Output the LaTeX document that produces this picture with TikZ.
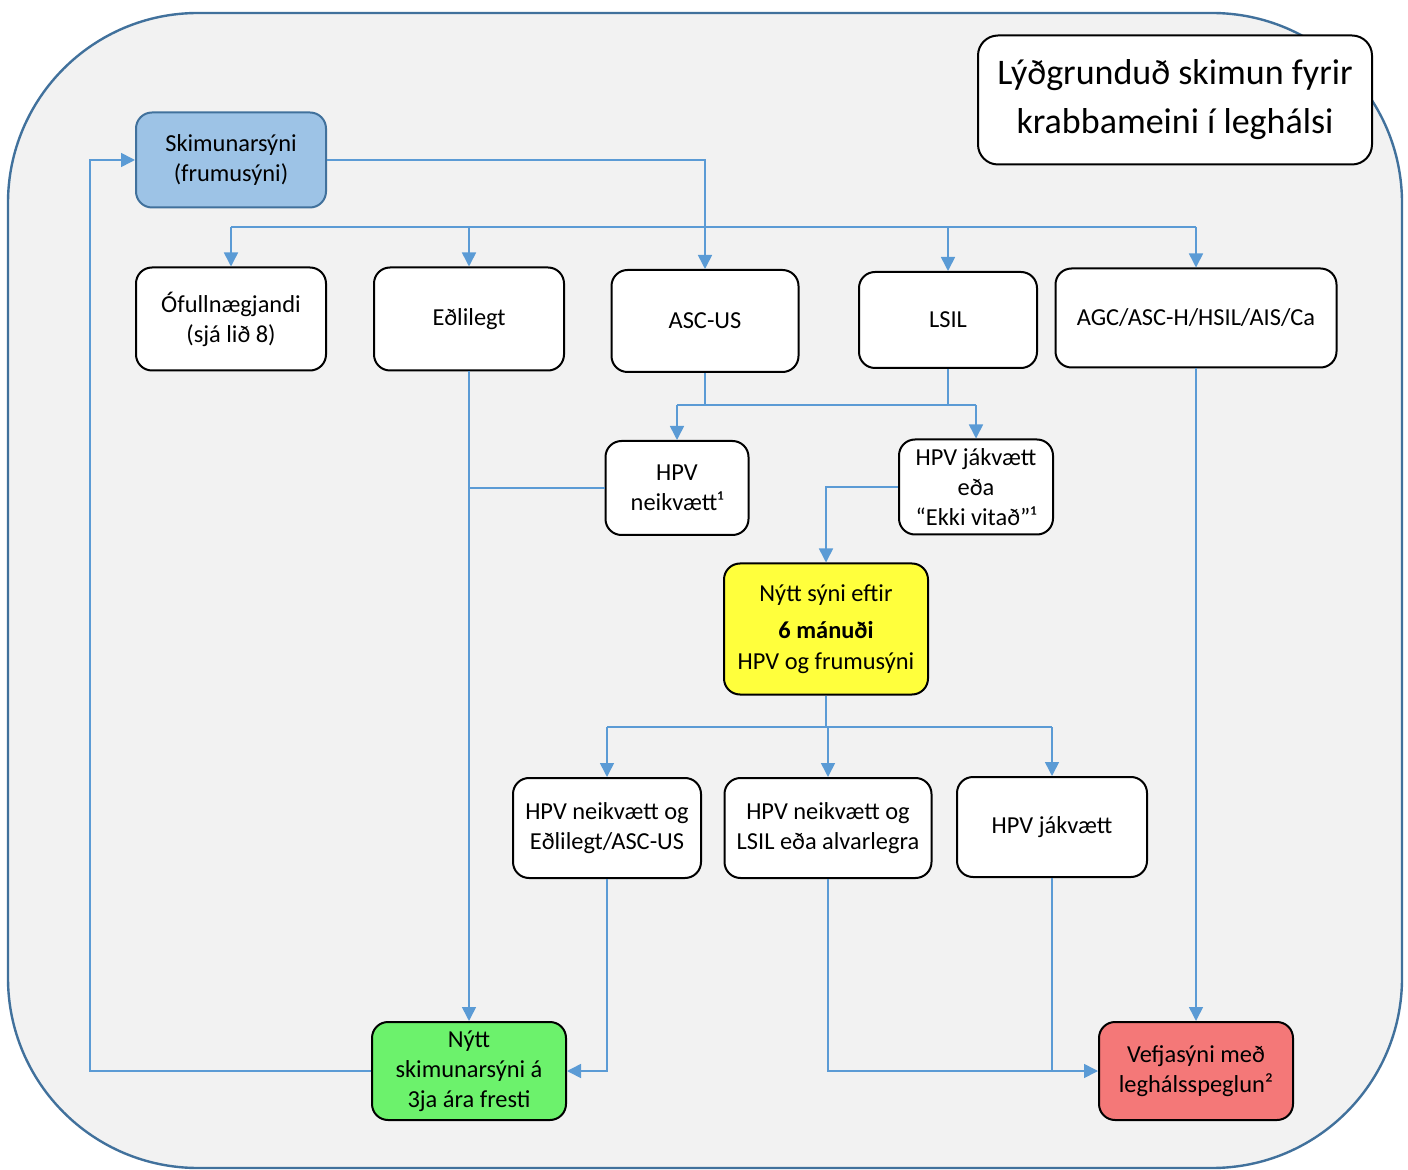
\documentclass[tikz,border=0pt]{standalone}
\usepackage{fontspec}
\setmainfont{Carlito}
\usetikzlibrary{arrows.meta}

\definecolor{framecol}{HTML}{41719C}
\definecolor{bgcol}{HTML}{F2F2F2}
\definecolor{linkcol}{HTML}{5B9BD5}
\definecolor{startcol}{HTML}{9DC3E6}
\definecolor{waitcol}{HTML}{FFFF3C}
\definecolor{okcol}{HTML}{6CF26C}
\definecolor{biopsycol}{HTML}{F47878}

\tikzset{
  box/.style={draw=black, line width=1pt, fill=white, rounded corners=8pt,
    align=center, inner sep=2pt, font=\fontsize{12.2}{15}\selectfont},
  link/.style={draw=linkcol, line width=0.8pt},
  arr/.style={link, -{Triangle[width=7pt,length=7pt]}},
}

\begin{document}
\begin{tikzpicture}[x=0.5pt,y=-0.5pt]
    \useasboundingbox (0,0) rectangle (1408,1170);
    \fill[white] (0,0) rectangle (1408,1170);
    \draw[framecol, line width=1.2pt, fill=bgcol, rounded corners=95pt] (8,13) rectangle (1402,1168);

    % title
    \node[box, minimum width=197pt, minimum height=64.5pt, rounded corners=10pt,
      font=\fontsize{18}{24.5}\selectfont] (title) at (1175,100) {Lýðgrunduð skimun fyrir\\krabbameini í leghálsi};

    % start
    \node[box, fill=startcol, draw=framecol, minimum width=95pt, minimum height=47.5pt] (start) at (231,160) {Skimunarsýni\\(frumusýni)};

    % first results
    \node[box, minimum width=95pt, minimum height=51.5pt] (ofull) at (231,319) {Ófullnægjandi\\(sjá lið 8)};
    \node[box, minimum width=95pt, minimum height=51.5pt] (edl) at (469,319) {Eðlilegt};
    \node[box, minimum width=93.5pt, minimum height=51pt] (ascus) at (705,321) {ASC-US};
    \node[box, minimum width=89pt, minimum height=48pt] (lsil) at (948,320) {LSIL};
    \node[box, minimum width=140.5pt, minimum height=49.5pt] (agc) at (1196,318) {AGC/ASC-H/HSIL/AIS/Ca};

    % hpv
    \node[box, minimum width=71.5pt, minimum height=47pt] (hpvneg) at (677,488) {HPV\\neikvætt¹};
    \node[box, minimum width=77pt, minimum height=47.5pt] (hpvpos) at (976,487) {HPV jákvætt\\eða\\“Ekki vitað”¹};

    % follow up
    \node[box, fill=waitcol, minimum width=102pt, minimum height=65.5pt,
      font=\fontsize{12.2}{15.5}\selectfont] (six) at (826,629) {Nýtt sýni eftir\\[3pt]\textbf{6 mánuði}\\HPV og frumusýni};

    \node[box, minimum width=94pt, minimum height=50pt] (negnorm) at (607,828) {HPV neikvætt og\\Eðlilegt/ASC-US};
    \node[box, minimum width=103.5pt, minimum height=50pt] (neglsil) at (828,828) {HPV neikvætt og\\LSIL eða alvarlegra};
    \node[box, minimum width=95pt, minimum height=50pt] (pos) at (1052,827) {HPV jákvætt};

    % outcomes
    \node[box, fill=okcol, minimum width=97pt, minimum height=49pt] (nyttskim) at (469,1071) {Nýtt\\skimunarsýni á\\3ja ára fresti};
    \node[box, fill=biopsycol, minimum width=97pt, minimum height=49pt] (biopsy) at (1196,1071) {Vefjasýni með\\leghálsspeglun²};

    \coordinate (bus) at (0,227);
    \coordinate (hpvbus) at (0,405);
    \coordinate (resbus) at (0,727);
    \coordinate (loop) at (90,600);

    % connectors
    \draw[arr] (start.east) -| (ascus.north);
    \draw[link] (ofull.north |- bus) -- (agc.north |- bus);
    \foreach \n in {ofull,edl,lsil,agc}
      \draw[arr] (\n.north |- bus) -- (\n.north);

    \draw[link] (ascus.south) -- (ascus.south |- hpvbus);
    \draw[link] (lsil.south) -- (lsil.south |- hpvbus);
    \draw[link] (hpvneg.north |- hpvbus) -- (hpvpos.north |- hpvbus);
    \draw[arr] (hpvneg.north |- hpvbus) -- (hpvneg.north);
    \draw[arr] (hpvpos.north |- hpvbus) -- (hpvpos.north);

    \draw[link] (hpvneg.west) -- (hpvneg.west -| edl.south);
    \draw[arr] (edl.south) -- (nyttskim.north);
    \draw[arr] (hpvpos.west) -| (six.north);

    \draw[link] (six.south) -- (six.south |- resbus);
    \draw[link] (negnorm.north |- resbus) -- (pos.north |- resbus);
    \foreach \n in {negnorm,neglsil,pos}
      \draw[arr] (\n.north |- resbus) -- (\n.north);

    \draw[arr] (negnorm.south) |- (nyttskim.east);
    \draw[arr] (neglsil.south) |- (biopsy.west);
    \draw[link] (pos.south) -- (pos.south |- biopsy.west);
    \draw[arr] (agc.south) -- (biopsy.north);
    \draw[arr] (nyttskim.west) -| (loop) |- (start.west);
\end{tikzpicture}
\end{document}
